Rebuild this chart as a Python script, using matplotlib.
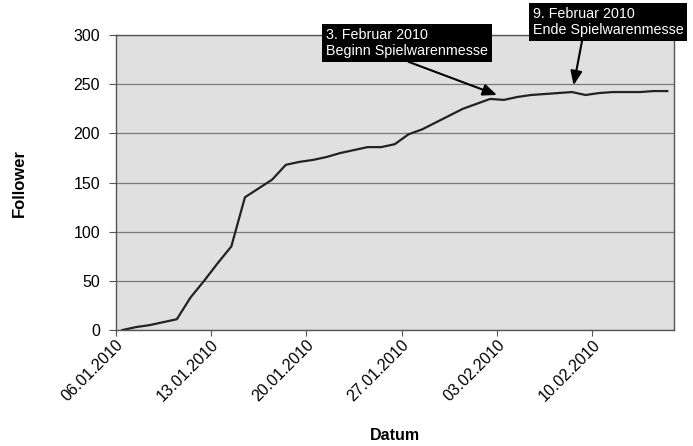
import matplotlib
matplotlib.use("Agg")
import matplotlib.pyplot as plt
import matplotlib.dates as mdates
import pandas as pd

plt.rcParams['font.family'] = ['Liberation Sans', 'DejaVu Sans']

# Follower pro Tag, 06.01.2010 - 15.02.2010
dates = pd.date_range("2010-01-06", "2010-02-15", freq="D")
follower = [0, 3, 5, 8, 11, 33, 50, 68, 85, 135,
            144, 153, 168, 171, 173, 176, 180, 183, 186, 186,
            189, 199, 204, 211, 218, 225, 230, 235, 234, 237,
            239, 240, 241, 242, 239, 241, 242, 242, 242, 243,
            243]

tick_dates = pd.date_range("2010-01-06", "2010-02-10", freq="7D")
y_ticks = [0, 50, 100, 150, 200, 250, 300]

# Beschriftungen (Text, Pfeilspitze, Textposition in Pixeln, Ansatzpunkt am Kasten)
notes = [
    ("3. Februar 2010\nBeginn Spielwarenmesse",
     (pd.Timestamp("2010-02-03"), 239), (326, 418), (0.45, 0)),
    ("9. Februar 2010\nEnde Spielwarenmesse",
     (pd.Timestamp("2010-02-08 15:00"), 249), (533, 439), (0.33, 0)),
]

fig = plt.figure(figsize=(6.93, 4.46), dpi=100)
ax = fig.add_axes([0.1667, 0.260, 0.806, 0.6615])
ax.set_facecolor('#e0e0e0')

# Punkte liegen in der Tagesmitte
ax.plot(dates + pd.Timedelta(hours=12), follower, color='#222222', lw=1.6)

ax.set_ylim(0, 300)
ax.set_yticks(y_ticks)
ax.set_xlim(pd.Timestamp("2010-01-06"), pd.Timestamp("2010-02-16"))
ax.set_xticks(tick_dates)
ax.xaxis.set_major_formatter(mdates.DateFormatter('%d.%m.%Y'))

ax.yaxis.grid(True, color='#7a7a7a', lw=0.9)
ax.set_axisbelow(True)
for s in ax.spines.values():
    s.set_color('#555555')
    s.set_linewidth(1.0)

ax.tick_params(axis='y', length=5, width=0.8, color='#555555', labelsize=11.5, pad=6)
ax.tick_params(axis='x', length=4, width=0.8, color='#555555', labelsize=11.5, pad=1)
for lbl in ax.get_xticklabels():
    lbl.set_rotation(45)
    lbl.set_ha('right')
    lbl.set_rotation_mode('anchor')

ax.set_ylabel("Follower", fontsize=12, fontweight='bold')
ax.yaxis.set_label_coords(-0.158, 0.5)
ax.set_xlabel("Datum", fontsize=11.5, fontweight='bold')
ax.xaxis.set_label_coords(0.50, -0.332)

for text, xy, xytext, rel in notes:
    ax.annotate(text, xy=xy, xytext=xytext, textcoords='figure pixels',
                ha='left', va='top', color='white', fontsize=10.3,
                linespacing=1.2,
                bbox=dict(boxstyle='square,pad=0.25', fc='black', ec='none'),
                arrowprops=dict(arrowstyle='-|>,head_length=0.6,head_width=0.25',
                                color='black', lw=1.5, mutation_scale=14,
                                shrinkA=0, shrinkB=0, relpos=rel),
                annotation_clip=False)

fig.savefig("out.png", dpi=100)
